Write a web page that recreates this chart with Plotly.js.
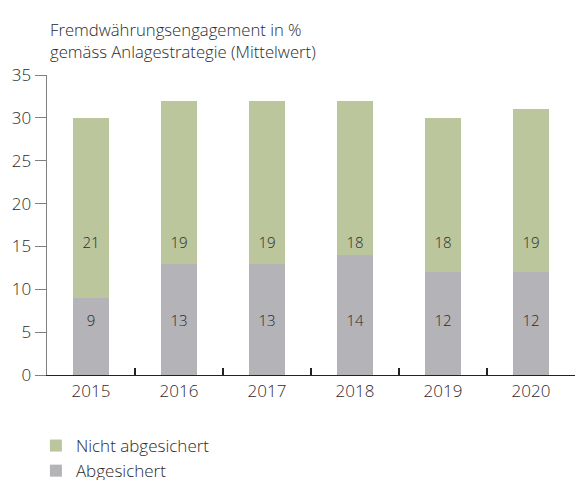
<!DOCTYPE html>
<html>
<head>
<meta charset="utf-8">
<script src="https://cdn.plot.ly/plotly-3.0.1.min.js"></script>
<style>html,body{margin:0;padding:0;background:#fff;}#chart{width:578px;height:480px;}</style>
</head>
<body>
<div id="chart"></div>
<script>
const years = ['2015', '2016', '2017', '2018', '2019', '2020'];
const abgesichert = [9, 13, 13, 14, 12, 12];
const nichtAbgesichert = [21, 19, 19, 18, 18, 19];
const yTicks = [0, 5, 10, 15, 20, 25, 30, 35];

const FONT = 'Open Sans, Noto Sans, sans-serif';
const W = 300;
const TXT = '#2a2a2a';
const GREY = '#b4b3b8';
const GREEN = '#bcc69c';

const traces = [
  {
    type: 'bar', name: 'Abgesichert', x: years, y: abgesichert,
    marker: {color: GREY, line: {width: 0}}, width: 0.42,
    hoverinfo: 'skip'
  },
  {
    type: 'bar', name: 'Nicht abgesichert', x: years, y: nichtAbgesichert,
    marker: {color: GREEN, line: {width: 0}}, width: 0.42,
    hoverinfo: 'skip'
  },
  {
    type: 'scatter', mode: 'text', x: years, y: years.map(() => 6.2),
    text: abgesichert.map(String), textfont: {family: FONT, size: 15, color: TXT, weight: W},
    showlegend: false, hoverinfo: 'skip'
  },
  {
    type: 'scatter', mode: 'text', x: years, y: years.map(() => 15.3),
    text: nichtAbgesichert.map(String), textfont: {family: FONT, size: 15, color: TXT, weight: W},
    showlegend: false, hoverinfo: 'skip'
  }
];

const layout = {
  width: 578, height: 480,
  margin: {l: 47, r: 3, t: 75, b: 105, autoexpand: false},
  paper_bgcolor: '#fff', plot_bgcolor: '#fff',
  barmode: 'stack',
  font: {family: FONT, color: TXT, size: 16.7, weight: W},
  title: {
    text: 'Fremdwährungsengagement in %<br>gemäss Anlagestrategie (Mittelwert)',
    x: 0, xref: 'paper', xanchor: 'left', y: 1 - 36 / 480, yref: 'container', yanchor: 'middle',
    pad: {l: 3},
    font: {family: FONT, size: 16.7, color: TXT, weight: W}
  },
  xaxis: {
    type: 'category', showgrid: false, zeroline: false,
    showline: true, linecolor: '#222', linewidth: 1.2,
    ticks: 'inside', tickson: 'boundaries', ticklen: 7, tickcolor: '#222', tickwidth: 1.2,
    tickfont: {family: FONT, size: 17, color: TXT, weight: W},
    range: [-0.5, 5.5], fixedrange: true
  },
  yaxis: {
    range: [0, 35], tickvals: yTicks, showgrid: false, zeroline: false,
    showline: true, linecolor: '#808080', linewidth: 1.5,
    ticks: 'outside', ticklen: 11, tickcolor: '#808080', tickwidth: 1,
    tickfont: {family: FONT, size: 17, color: TXT, weight: W},
    fixedrange: true
  },
  showlegend: true,
  legend: {
    orientation: 'v', x: -0.021, xanchor: 'left', y: 1 - 428 / 480, yref: 'container', yanchor: 'top',
    traceorder: 'reversed', font: {family: FONT, size: 17, color: TXT, weight: W},
    bgcolor: 'rgba(0,0,0,0)'
  }
};

Plotly.newPlot('chart', traces, layout, {displayModeBar: false, staticPlot: true});
</script>
</body>
</html>
